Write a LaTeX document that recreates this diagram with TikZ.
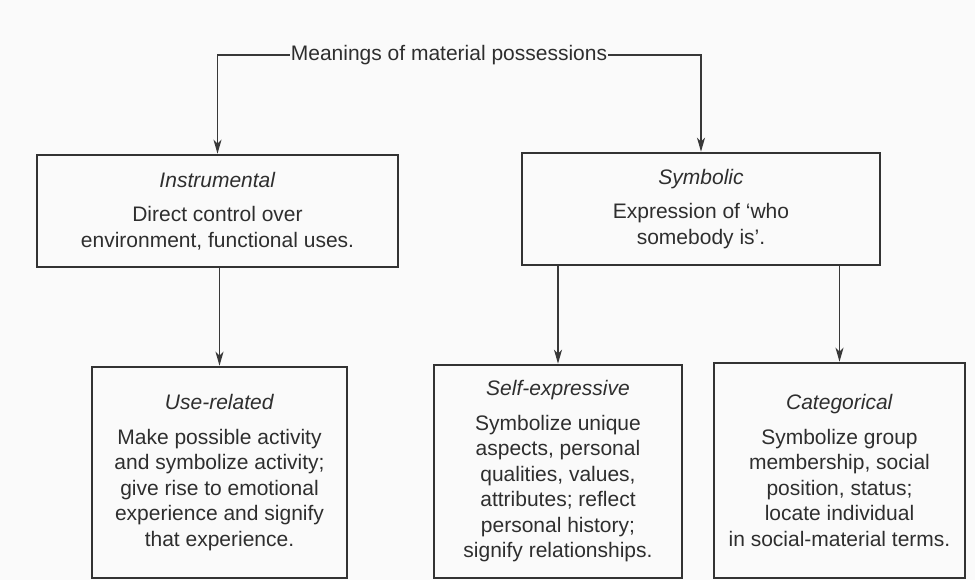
\documentclass[tikz,border=0pt]{standalone}
\usepackage{fontspec}
\setmainfont{Liberation Sans}
\usepackage{tikz}
\usetikzlibrary{positioning, arrows.meta}

\begin{document}
\begin{tikzpicture}[x=1pt, y=-1pt,
    box/.style={rectangle, draw=black!80, line width=2.6pt, align=center, text=black!82, font=\fontsize{21}{25.5}\selectfont, inner sep=0pt},
    arr/.style={-{Stealth[length=14pt, width=8pt, inset=4pt]}, line width=1.3pt, draw=black!78}]

    \fill[black!2] (0,0) rectangle (975,580);
    \useasboundingbox (0,0) rectangle (975,580);

    \node[text=black!82, font=\fontsize{21}{25}\selectfont, inner sep=1pt] (meanings) at (449,55) {Meanings of material possessions};

    \node[box, minimum width=361pt, minimum height=112pt] (instrumental) at (217.5,211) {\textit{Instrumental}\\[9pt]Direct control over\\environment, functional uses.};
    \node[box, minimum width=358pt, minimum height=112pt] (symbolic) at (701,209) {\textit{Symbolic}\\[9pt]Expression of `who\\somebody is'.};

    \node[box, minimum width=255pt, minimum height=211pt] (userelated) at (219.5,472.5) {\textit{Use-related}\\[9pt]Make possible activity\\and symbolize activity;\\give rise to emotional\\experience and signify\\that experience.};
    \node[box, minimum width=248pt, minimum height=213pt] (selfexpr) at (558,471.5) {\textit{Self-expressive}\\[9pt]Symbolize unique\\aspects, personal\\qualities, values,\\attributes; reflect\\personal history;\\signify relationships.};
    \node[box, minimum width=251pt, minimum height=215pt] (categorical) at (839.5,470.5) {\textit{Categorical}\\[9pt]Symbolize group\\membership, social\\position, status;\\locate individual\\in social-material terms.};

    \draw[arr] (meanings.west) -| (instrumental.north);
    \draw[arr] (meanings.east) -| (symbolic.north);
    \draw[arr] (userelated.north |- instrumental.south) -- (userelated.north);
    \draw[arr] (selfexpr.north |- symbolic.south) -- (selfexpr.north);
    \draw[arr] (categorical.north |- symbolic.south) -- (categorical.north);

\end{tikzpicture}
\end{document}
